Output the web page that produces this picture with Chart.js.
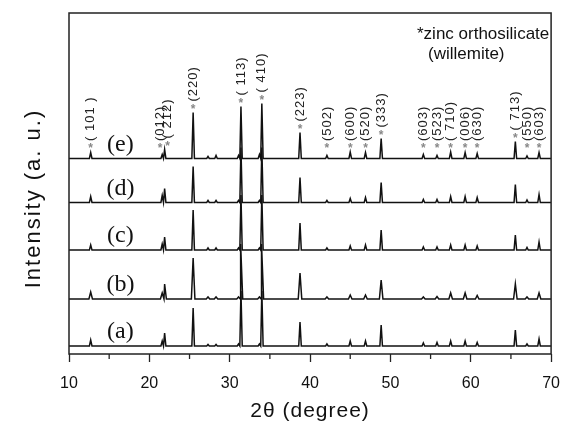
<!DOCTYPE html>
<html>
<head>
<meta charset="utf-8">
<script src="https://cdn.jsdelivr.net/npm/chart.js@4.4.1/dist/chart.umd.min.js"></script>
<style>
  html, body { margin: 0; padding: 0; background: #fff; }
  #wrap { width: 572px; height: 423px; }
</style>
</head>
<body>
<div id="wrap"><canvas id="xrd"></canvas></div>
<script>
// willemite reflections (2theta, degree) and their labels
const peakPos = [12.7, 21.6, 21.9, 25.45, 31.4, 34.0, 38.75, 42.1, 45.0, 46.9, 48.85, 54.1, 55.8, 57.5, 59.3, 60.8, 65.55, 67.0, 68.5];
const peakLabels = ['( 101 )', '(012)', '( 212)', '(220)', '( 113)', '( 410)', '(223)', '(502)', '(600)', '(520)', '(333)', '(603)', '(523)', '( 710)', '(006)', '(630)', '( 713)', '(550)', '(603)'];

// peak heights per sample (a.u.)
const heightsA = [6, 5, 13, 38, 55, 55, 24, 2, 5, 5, 21, 3, 3.5, 5, 5, 3.5, 16, 2, 7];
const heightsB = [7, 6, 15, 41, 55, 55, 26, 2, 4, 4, 19, 2, 2.5, 6, 6, 3.5, 15, 2, 6];
const heightsC = [5, 6, 13, 40, 55, 55, 27, 2, 4, 5, 20, 3, 3, 5, 5, 4, 15, 2.5, 8];
const heightsD = [6, 7, 14, 36, 55, 55, 25, 2, 4, 5, 20, 3, 3, 6, 6, 5, 18, 2.5, 8];
const heightsE = [6, 4, 9, 46, 52, 55, 26, 3, 6.5, 6, 20, 4, 3, 6.5, 6, 5, 17, 2.5, 6];

// small unlabeled bumps
const minorPos = [27.3, 28.3, 31.1, 33.7];
const minorA = [1.5, 1.5, 2, 2];
const minorB = [2, 2, 2, 2];
const minorC = [2, 2, 2, 2];
const minorD = [2, 2, 2, 2];
const minorE = [2, 3, 3, 4];

const sampleNames = ['(a)', '(b)', '(c)', '(d)', '(e)'];
const offsets = [8, 55, 104, 151.5, 195.5];
const xTicks = [10, 20, 30, 40, 50, 60, 70];

function buildTrace(heights, minors, offset, w) {
  const peaks = peakPos.map((x, i) => ({ x: x, h: heights[i] }))
    .concat(minorPos.map((x, i) => ({ x: x, h: minors[i] })));
  peaks.sort((p, q) => p.x - q.x);
  const pts = [{ x: 10, y: offset }];
  let last = 10;
  peaks.forEach(p => {
    const l = Math.max(p.x - w, last);
    pts.push({ x: l, y: offset }, { x: p.x, y: offset + p.h }, { x: p.x + w, y: offset });
    last = p.x + w;
  });
  pts.push({ x: 70, y: offset });
  return pts;
}

const allHeights = [heightsA, heightsB, heightsC, heightsD, heightsE];
const allMinors = [minorA, minorB, minorC, minorD, minorE];
const widths = [0.16, 0.22, 0.16, 0.16, 0.16];

const datasets = sampleNames.map((n, i) => ({
  label: n,
  data: buildTrace(allHeights[i], allMinors[i], offsets[i], widths[i]),
  borderColor: '#111',
  borderWidth: 1.5,
  pointRadius: 0,
  tension: 0,
  showLine: true
}));

const annot = {
  id: 'annot',
  afterDraw(chart) {
    const ctx = chart.ctx;
    const xs = chart.scales.x, ys = chart.scales.y;
    const a = chart.chartArea;
    ctx.save();
    // frame
    ctx.strokeStyle = '#222';
    ctx.lineWidth = 1.5;
    ctx.strokeRect(a.left, a.top, a.right - a.left, a.bottom - a.top);
    // minor ticks
    ctx.lineWidth = 1.3;
    for (let v = 15; v < 70; v += 10) {
      const px = xs.getPixelForValue(v);
      ctx.beginPath();
      ctx.moveTo(px, a.bottom);
      ctx.lineTo(px, a.bottom + 5);
      ctx.stroke();
    }
    // sample labels
    ctx.fillStyle = '#111';
    ctx.font = '24px "Liberation Serif", "Times New Roman", serif';
    ctx.textAlign = 'center';
    ctx.textBaseline = 'alphabetic';
    sampleNames.forEach((n, i) => {
      ctx.fillText(n, xs.getPixelForValue(16.4), ys.getPixelForValue(offsets[i]) - 8);
    });
    // peak labels on trace (e)
    const e = offsets[4];
    const nudge = { 1: -2, 2: 3 };
    peakPos.forEach((x, i) => {
      const px = xs.getPixelForValue(x) + (nudge[i] || 0);
      const sy = ys.getPixelForValue(e + Math.max(heightsE[i] + 6, 12.5));
      ctx.fillStyle = '#888';
      ctx.font = 'bold 12px "Liberation Sans", Arial, sans-serif';
      ctx.textAlign = 'center';
      ctx.textBaseline = 'middle';
      ctx.fillText('*', px, sy + 3);
      ctx.save();
      ctx.translate(px, sy - 5);
      ctx.rotate(-Math.PI / 2);
      ctx.fillStyle = '#222';
      ctx.font = '13px "Liberation Sans", Arial, sans-serif';
      ctx.letterSpacing = '1px';
      ctx.textAlign = 'left';
      ctx.textBaseline = 'middle';
      ctx.fillText(peakLabels[i], 0, 0);
      ctx.restore();
    });
    // phase note
    ctx.fillStyle = '#111';
    ctx.font = '17px "Liberation Sans", Arial, sans-serif';
    ctx.textAlign = 'left';
    ctx.textBaseline = 'alphabetic';
    ctx.fillText('*zinc orthosilicate', 417, 39);
    ctx.fillText('(willemite)', 428, 59);
    // axis titles
    ctx.font = '21px "Liberation Sans", Arial, sans-serif';
    ctx.letterSpacing = '1px';
    ctx.textAlign = 'center';
    ctx.fillText('2θ (degree)', (a.left + a.right) / 2, 417);
    ctx.save();
    ctx.translate(40, (a.top + a.bottom) / 2 + 15);
    ctx.rotate(-Math.PI / 2);
    ctx.font = '22px "Liberation Sans", Arial, sans-serif';
    ctx.letterSpacing = '2px';
    ctx.fillText('Intensity (a. u.)', 0, 0);
    ctx.restore();
    ctx.restore();
  }
};

new Chart(document.getElementById('xrd'), {
  type: 'scatter',
  data: { datasets: datasets },
  options: {
    responsive: true,
    maintainAspectRatio: false,
    animation: false,
    layout: { padding: { top: 13, right: 7, left: 0, bottom: 0 } },
    plugins: { legend: { display: false }, tooltip: { enabled: false } },
    scales: {
      x: {
        type: 'linear',
        min: 10,
        max: 70,
        afterBuildTicks(scale) { scale.ticks = xTicks.map(v => ({ value: v })); },
        afterFit(scale) { scale.height = 69; },
        ticks: {
          color: '#111',
          padding: 12,
          font: { family: '"Liberation Sans", Arial, sans-serif', size: 16 },
          maxRotation: 0
        },
        grid: { drawOnChartArea: false, drawTicks: true, tickLength: 8, tickColor: '#222', tickWidth: 1.3 },
        border: { display: false }
      },
      y: {
        min: 0,
        max: 341,
        afterFit(scale) { scale.width = 69; },
        ticks: { display: false },
        grid: { display: false },
        border: { display: false }
      }
    }
  },
  plugins: [annot]
});
</script>
</body>
</html>
